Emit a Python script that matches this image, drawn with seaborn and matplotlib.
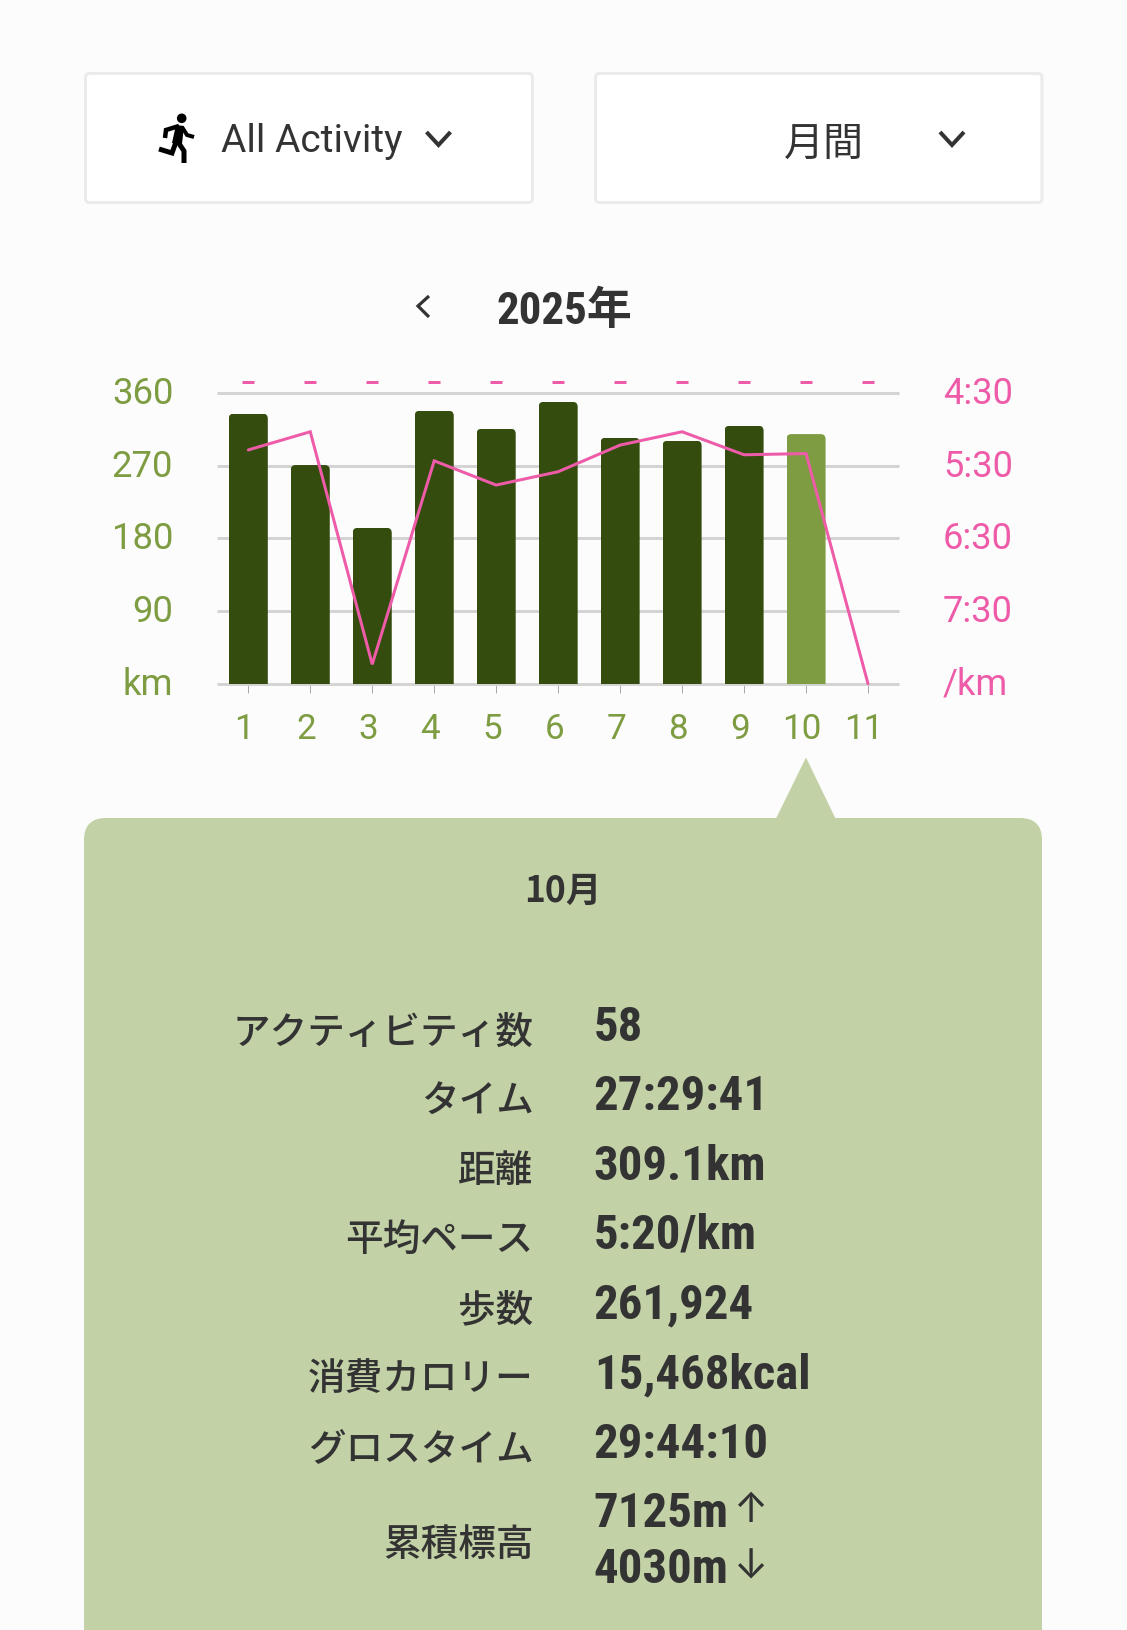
import matplotlib
matplotlib.use('Agg')
import matplotlib.pyplot as plt
import matplotlib.transforms as mtrans
from matplotlib.patches import FancyBboxPatch, Polygon, Circle
import numpy as np
import pandas as pd
import seaborn as sns

# ---------- data ----------
months = ['1', '2', '3', '4', '5', '6', '7', '8', '9', '10', '11']
distance_km = [334.4, 270.8, 193.0, 338.0, 315.7, 349.0, 304.6, 300.9, 319.4, 309.1, 0.0]
pace_sec = [317, 302, 494, 326, 346, 335, 313, 302, 321, 320, 510]
selected_month = '10'
km_ticks = [0, 90, 180, 270, 360]
km_labels = ['km', '90', '180', '270', '360']
pace_ticks = [270, 330, 390, 450, 510]
pace_labels = ['4:30', '5:30', '6:30', '7:30', '/km']
no_data_pace = 261

row_labels = ['アクティビティ数', 'タイム', '距離', '平均ペース', '歩数', '消費カロリー', 'グロスタイム', '累積標高']
row_values = ['58', '27:29:41', '309.1km', '5:20/km', '261,924', '15,468kcal', '29:44:10', '7125m', '4030m']

# ---------- style ----------
BG = '#FCFCFC'
DARK = '#344D0E'
GREEN = '#7E9C41'
PINK = '#EE5BA8'
PANEL = '#C3D1A6'
INK = '#333333'
GRID = '#D4D4D4'
W, H = 1127, 1630
px = 0.72  # points per pixel at dpi 100

sns.set_theme(style='white')
plt.rcParams['font.family'] = ['Roboto', 'Noto Sans CJK JP', 'DejaVu Sans']
CJK = ['Noto Sans CJK JP', 'DejaVu Sans']
COND = ['Roboto Condensed', 'Noto Sans CJK JP', 'DejaVu Sans']
ARROW = ['Inter', 'DejaVu Sans']

fig = plt.figure(figsize=(W / 100, H / 100), dpi=100, facecolor=BG)

# ---------- interface layer (pixel coordinates) ----------
ui = fig.add_axes([0, 0, 1, 1], zorder=0)
ui.set_xlim(0, W)
ui.set_ylim(H, 0)
ui.axis('off')


def box(x0, y0, x1, y1, r, **kw):
    ui.add_patch(FancyBboxPatch((x0, y0), x1 - x0, y1 - y0,
                                boxstyle=f'round,pad=0,rounding_size={r}', **kw))


for x0, x1 in [(85.5, 532.5), (595.5, 1042)]:
    box(x0, 73.5, x1, 202.5, 4, fc='white', ec='#EBEBEB', lw=3 * px)

# running figure
ui.add_patch(Circle((181.7, 118.3), 4.8, fc='black', ec='none'))
ui.add_patch(Polygon([(176, 125), (184, 126), (182, 144), (172, 143)], closed=True, fc='black', ec='none'))
for pts, lw in [([(179, 126), (166, 130), (165, 138)], 4.5),
                ([(182, 127), (187, 135), (194, 137)], 4),
                ([(176, 142), (172, 153), (159, 149)], 5),
                ([(178, 142), (184, 151), (184, 163)], 5)]:
    xs, ys = zip(*pts)
    ui.plot(xs, ys, color='black', lw=lw * px, solid_joinstyle='miter', solid_capstyle='butt')

ui.text(220.7, 151.7, 'All Activity', fontsize=38.9 * px, color=INK, family=['Roboto'], va='baseline', ha='left')
ui.text(824, 145, '月間', fontsize=40 * px, color=INK, family=CJK, va='center', ha='center')

for cx in (438.5, 952):
    ui.plot([cx - 12, cx, cx + 12], [132, 145, 132], color=INK, lw=4 * px,
            solid_joinstyle='miter', solid_capstyle='butt')
ui.plot([429, 418, 429], [296, 306, 317], color=INK, lw=3.2 * px, solid_joinstyle='miter', solid_capstyle='butt')

ui.text(496, 324, '2025年', fontsize=45 * px, color=INK, family=COND, weight='bold', va='baseline', ha='left')

# detail panel
box(84, 818, 1042, H + 60, 22, fc=PANEL, ec='none')
ui.add_patch(Polygon([(776, 818.5), (806, 757.5), (835.5, 818.5)], closed=True, fc=PANEL, ec='none'))
ui.text(562.5, 891, '10月', fontsize=35.5 * px, color=INK, family=CJK, weight='bold', va='center', ha='center')

label_base = [1043.4, 1112.5, 1182, 1251, 1321, 1390, 1460, 1556.5]
value_base = [1041.4, 1110, 1180, 1249, 1318, 1388.5, 1458, 1527.3, 1583.2]
for text, y in zip(row_labels, label_base):
    ui.text(533.5, y, text, fontsize=37.6 * px, color=INK, family=CJK, weight='medium', va='baseline', ha='right')
for text, y in zip(row_values, value_base):
    ui.text(593.7, y, text, fontsize=48.7 * px, color=INK, family=COND, weight='bold', va='baseline', ha='left')
ui.text(751.5, 1511, '↑', fontsize=41 * px, color=INK, family=ARROW, va='center', ha='center')
ui.text(751.5, 1567.5, '↓', fontsize=41 * px, color=INK, family=ARROW, va='center', ha='center')

# ---------- chart ----------
left, right, top, bottom = 217.3, 899.0, 393.0, 683.7
ax = fig.add_axes([left / W, (H - bottom) / H, (right - left) / W, (bottom - top) / H], zorder=2)
ax.patch.set_alpha(0)

df = pd.DataFrame({'month': months, 'km': distance_km, 'pace': pace_sec, 'pos': np.arange(len(months))})
df['is_selected'] = df['month'].eq(selected_month).map({True: 'selected', False: 'other'})
sns.barplot(data=df, x='month', y='km', hue='is_selected', order=months,
            palette={'selected': GREEN, 'other': DARK}, width=0.63, dodge=False, saturation=1,
            legend=False, ax=ax, zorder=3, linewidth=0)

ax.set_xlim(-0.5, 10.5)
ax.set_ylim(0, 360)
ax.set_xlabel('')
ax.set_ylabel('')
ax.set_yticks(km_ticks, km_labels)
ax.set_xticks(range(len(months)), months)
ax.grid(False)
ax.yaxis.grid(True, color=GRID, lw=3 * px, zorder=1)
ax.set_axisbelow(True)
for g in ax.get_ygridlines():
    g.set_clip_on(False)
    g.set_zorder(1)
    g.set_solid_capstyle('butt')
sns.despine(ax=ax, left=True, right=True, top=True, bottom=True)
ax.tick_params(axis='y', length=0, pad=44 * px, labelsize=36.5 * px, labelcolor=GREEN)
ax.tick_params(axis='x', length=9 * px, width=1 * px, color='#AAAAAA', pad=20 * px,
               labelsize=35 * px, labelcolor=GREEN, bottom=True)

# rounded upper corners of the bars
aspect = 0.8075 ** -1 * 61.97
for bar in ax.patches:
    if bar.get_height() <= 0:
        continue
    rounded = FancyBboxPatch((bar.get_x(), -20), bar.get_width(), bar.get_height() + 20,
                             boxstyle='round,pad=0,rounding_size=0.08',
                             mutation_aspect=aspect, transform=ax.transData)
    bar.set_clip_path(rounded)

ax2 = ax.twinx()
ax2.set_zorder(3)
ax2.patch.set_alpha(0)
sns.lineplot(data=df, x='pos', y='pace', color=PINK, lw=3 * px, ax=ax2, zorder=5,
             solid_joinstyle='miter', errorbar=None)
ax2.lines[0].set_clip_on(False)
ax2.plot(df['pos'], [no_data_pace] * len(df), ls='none', marker='_', ms=12 * px, mew=3 * px,
         color=PINK, clip_on=False, zorder=5)
ax2.set_xlim(-0.5, 10.5)
ax2.set_ylim(510, 270)
ax2.set_ylabel('')
ax2.set_yticks(pace_ticks, pace_labels)
ax2.grid(False)
sns.despine(ax=ax2, left=True, right=True, top=True, bottom=True)
ax2.tick_params(axis='y', length=0, pad=44 * px, labelsize=36.3 * px, labelcolor=PINK)

# baseline-align the axis labels as in the reference
shift_y = mtrans.ScaledTranslation(0, -11 / 100, fig.dpi_scale_trans)
for lab in ax.get_yticklabels() + ax2.get_yticklabels():
    lab.set_va('baseline')
    lab.set_transform(lab.get_transform() + shift_y)
shift_x = mtrans.ScaledTranslation(-4 / 100, 0, fig.dpi_scale_trans)
for lab in ax.get_xticklabels():
    lab.set_transform(lab.get_transform() + shift_x)

fig.savefig('out.png', dpi=100, facecolor=BG)
